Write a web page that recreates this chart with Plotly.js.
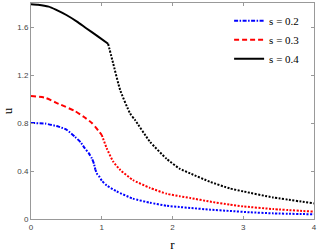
<!DOCTYPE html>
<html>
<head>
<meta charset="utf-8">
<script src="https://cdn.plot.ly/plotly-3.0.1.min.js"></script>
<style>html,body{margin:0;padding:0;background:#fff;}#chart{width:317px;height:252px;}</style>
</head>
<body>
<div id="chart"></div>
<script>
// s = 0.2 (blue)
const r_s02_core = [0, 0.2, 0.39, 0.5, 0.62, 0.7, 0.76, 0.82, 0.86, 0.89, 0.91];
const u_s02_core = [0.80, 0.795, 0.77, 0.745, 0.686, 0.64, 0.59, 0.545, 0.505, 0.46, 0.41];
const r_s02_tail = [0.91, 0.94, 0.97, 1.0, 1.07, 1.21, 1.44, 1.68, 1.92, 2.1, 2.25, 2.53, 2.81, 3.09, 3.42, 4.0];
const u_s02_tail = [0.41, 0.37, 0.35, 0.32, 0.28, 0.23, 0.17, 0.136, 0.11, 0.10, 0.092, 0.078, 0.067, 0.056, 0.047, 0.039];
// s = 0.3 (red)
const r_s03_core = [0, 0.2, 0.39, 0.62, 0.75, 0.86, 0.92, 0.96, 1.0];
const u_s03_core = [1.025, 1.01, 0.96, 0.90, 0.85, 0.80, 0.76, 0.73, 0.70];
const r_s03_tail = [1.0, 1.07, 1.16, 1.26, 1.44, 1.68, 1.92, 2.1, 2.25, 2.53, 2.81, 3.0, 3.42, 4.0];
const u_s03_tail = [0.70, 0.59, 0.48, 0.41, 0.325, 0.26, 0.21, 0.19, 0.175, 0.145, 0.12, 0.105, 0.083, 0.061];
// s = 0.4 (black)
const r_s04_core = [0, 0.1, 0.25, 0.35, 0.5, 0.65, 0.78, 0.95, 1.09];
const u_s04_core = [1.79, 1.786, 1.77, 1.745, 1.70, 1.645, 1.59, 1.52, 1.46];
const r_s04_tail = [1.09, 1.16, 1.26, 1.4, 1.47, 1.68, 1.92, 2.1, 2.25, 2.53, 2.81, 3.0, 3.42, 4.0];
const u_s04_tail = [1.46, 1.30, 1.075, 0.88, 0.825, 0.645, 0.50, 0.42, 0.38, 0.31, 0.255, 0.23, 0.18, 0.13];

const legendNames = ['s = 0.2', 's = 0.3', 's = 0.4'];
const xTicks = [0, 1, 2, 3, 4];
const yTicks = [0, 0.4, 0.8, 1.2, 1.6];
const yTickText = ['0', '0.4', '0.8', '1.2', '1.6'];

const dotted = '2px,1.5px';
const traces = [
  {x: r_s02_core, y: u_s02_core, name: legendNames[0], mode: 'lines', line: {color: '#0000ff', width: 2, dash: '4px,1.5px,1.5px,1.5px'}},
  {x: r_s03_core, y: u_s03_core, name: legendNames[1], mode: 'lines', line: {color: '#ff0000', width: 2, dash: '5px,3px'}},
  {x: r_s04_core, y: u_s04_core, name: legendNames[2], mode: 'lines', line: {color: '#000000', width: 2}},
  {x: r_s02_tail, y: u_s02_tail, showlegend: false, mode: 'lines', line: {color: '#0000ff', width: 2, dash: dotted}},
  {x: r_s03_tail, y: u_s03_tail, showlegend: false, mode: 'lines', line: {color: '#ff0000', width: 2, dash: dotted}},
  {x: r_s04_tail, y: u_s04_tail, showlegend: false, mode: 'lines', line: {color: '#000000', width: 2, dash: dotted}}
];
traces.forEach(t => { t.line.shape = 'spline'; t.line.smoothing = 0.5; });

const tickFont = {family: 'Liberation Sans, Arial, sans-serif', size: 8, color: '#444'};
const layout = {
  width: 317, height: 252,
  margin: {l: 31, r: 3, t: 3, b: 33},
  paper_bgcolor: '#fff', plot_bgcolor: '#fff',
  showlegend: true,
  legend: {x: 0.70, y: 0.985, xanchor: 'left', yanchor: 'top', bgcolor: 'rgba(0,0,0,0)', borderwidth: 0,
           font: {family: 'Liberation Serif, Times New Roman, serif', size: 11, color: '#000'}, tracegroupgap: 0},
  xaxis: {range: [0, 4], tickvals: xTicks, ticktext: xTicks.map(String), ticks: 'inside', ticklen: 3, tickcolor: '#999',
          showline: true, linecolor: '#999', linewidth: 1, mirror: 'ticks', showgrid: false, zeroline: false,
          tickfont: tickFont,
          title: {text: 'r', font: {family: 'Liberation Serif, Times New Roman, serif', size: 13, color: '#000'}, standoff: 12}},
  yaxis: {range: [0, 1.8], tickvals: yTicks, ticktext: yTickText, ticks: 'inside', ticklen: 3, tickcolor: '#999',
          showline: true, linecolor: '#999', linewidth: 1, mirror: 'ticks', showgrid: false, zeroline: false,
          tickfont: tickFont,
          title: {text: 'u', font: {family: 'Liberation Serif, Times New Roman, serif', size: 13, color: '#000'}, standoff: 8}}
};
Plotly.newPlot('chart', traces, layout, {displayModeBar: false, staticPlot: true});
</script>
</body>
</html>
